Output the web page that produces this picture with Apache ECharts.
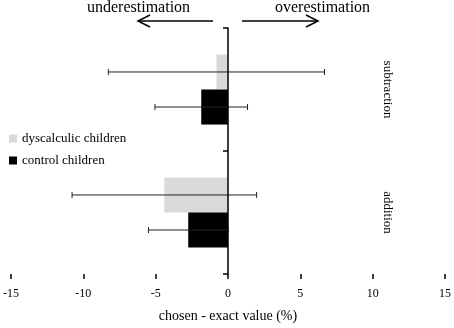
<!DOCTYPE html>
<html>
<head>
<meta charset="utf-8">
<script src="https://cdn.jsdelivr.net/npm/echarts@6/dist/echarts.min.js"></script>
<style>
  html, body { margin: 0; padding: 0; background: #fff; }
  #main { width: 454px; height: 328px; }
</style>
</head>
<body>
<div id="main"></div>
<script>
var categories = ['subtraction', 'addition'];
var dyscalculic = [-0.8, -4.4];
var dyscalculicErr = [7.47, 6.38];
var control = [-1.85, -2.75];
var controlErr = [3.2, 2.75];
var xTicks = [-15, -10, -5, 0, 5, 10, 15];

var chart = echarts.init(document.getElementById('main'));
var serif = '"Liberation Serif", "Times New Roman", serif';

function errData(vals, errs) {
    return vals.map(function (v, i) { return [i, v - errs[i], v + errs[i]]; });
}

// error bar drawn through the middle of the bar, side -1 = upper bar, 1 = lower bar
function errRender(side) {
    return function (params, api) {
        var cat = api.value(0);
        var band = api.size([0, 1])[1];
        var off = band * 0.285 * 0.5 * side;
        var lo = api.coord([api.value(1), cat]);
        var hi = api.coord([api.value(2), cat]);
        var y = lo[1] + off;
        var style = { stroke: '#222', lineWidth: 1 };
        return {
            type: 'group',
            children: [
                { type: 'line', shape: { x1: lo[0], y1: y, x2: hi[0], y2: y }, style: style },
                { type: 'line', shape: { x1: lo[0], y1: y - 3, x2: lo[0], y2: y + 3 }, style: style },
                { type: 'line', shape: { x1: hi[0], y1: y - 3, x2: hi[0], y2: y + 3 }, style: style }
            ]
        };
    };
}

var option = {
    animation: false,
    textStyle: { fontFamily: serif },
    grid: { left: 8, right: 7, top: 28, bottom: 51 },
    legend: {
        data: ['dyscalculic children', 'control children'],
        orient: 'vertical',
        left: 4,
        top: 127,
        itemWidth: 8,
        itemHeight: 8,
        itemGap: 9,
        icon: 'rect',
        textStyle: { fontFamily: serif, fontSize: 13, color: '#000' }
    },
    xAxis: {
        type: 'value',
        min: -15,
        max: 15,
        interval: 5,
        name: 'chosen - exact value (%)',
        nameLocation: 'middle',
        nameGap: 35,
        nameTextStyle: { fontFamily: serif, fontSize: 14, color: '#000' },
        axisLine: { onZero: false, lineStyle: { color: '#000', width: 1.5 } },
        axisTick: { show: true, length: 5, lineStyle: { color: '#000', width: 1.5 } },
        axisLabel: {
            color: '#000', fontFamily: serif, fontSize: 12, margin: 14,
            formatter: function (v) { return xTicks.indexOf(v) >= 0 ? String(v) : ''; }
        },
        splitLine: { show: false }
    },
    yAxis: [{
        type: 'category',
        data: categories,
        inverse: true,
        z: 5,
        axisLine: { onZero: true, lineStyle: { color: '#000', width: 1.5 } },
        axisTick: { show: true, length: 5, lineStyle: { color: '#000', width: 1.5 } },
        axisLabel: { show: false },
        splitLine: { show: false }
    }, {
        type: 'category',
        data: categories,
        inverse: true,
        position: 'right',
        axisLine: { show: false },
        axisTick: { show: false },
        axisLabel: {
            show: true,
            inside: true,
            rotate: -90,
            margin: 51,
            color: '#000',
            fontFamily: serif,
            fontSize: 13
        }
    }],
    series: [{
        name: 'dyscalculic children',
        type: 'bar',
        data: dyscalculic,
        barWidth: '28.5%',
        barGap: '0%',
        itemStyle: { color: '#d9d9d9' }
    }, {
        name: 'control children',
        type: 'bar',
        data: control,
        barWidth: '28.5%',
        barGap: '0%',
        itemStyle: { color: '#000' }
    }, {
        type: 'custom',
        renderItem: errRender(-1),
        encode: { x: [1, 2], y: 0 },
        data: errData(dyscalculic, dyscalculicErr),
        z: 3
    }, {
        type: 'custom',
        renderItem: errRender(1),
        encode: { x: [1, 2], y: 0 },
        data: errData(control, controlErr),
        z: 3
    }],
    graphic: [
        { type: 'text', left: 87, top: 0, style: { text: 'underestimation', font: '16px ' + serif, fill: '#000' } },
        { type: 'text', left: 275, top: 0, style: { text: 'overestimation', font: '16px ' + serif, fill: '#000' } },
        { type: 'line', shape: { x1: 138, y1: 21, x2: 213, y2: 21 }, style: { stroke: '#000', lineWidth: 1.5 } },
        { type: 'polyline', shape: { points: [[150, 15], [138, 21], [150, 27]] }, style: { stroke: '#000', lineWidth: 1.5, fill: null } },
        { type: 'line', shape: { x1: 242, y1: 21, x2: 318, y2: 21 }, style: { stroke: '#000', lineWidth: 1.5 } },
        { type: 'polyline', shape: { points: [[306, 15], [318, 21], [306, 27]] }, style: { stroke: '#000', lineWidth: 1.5, fill: null } }
    ]
};

chart.setOption(option);
window.addEventListener('resize', function () {
    chart.resize();
});
</script>
</body>
</html>
